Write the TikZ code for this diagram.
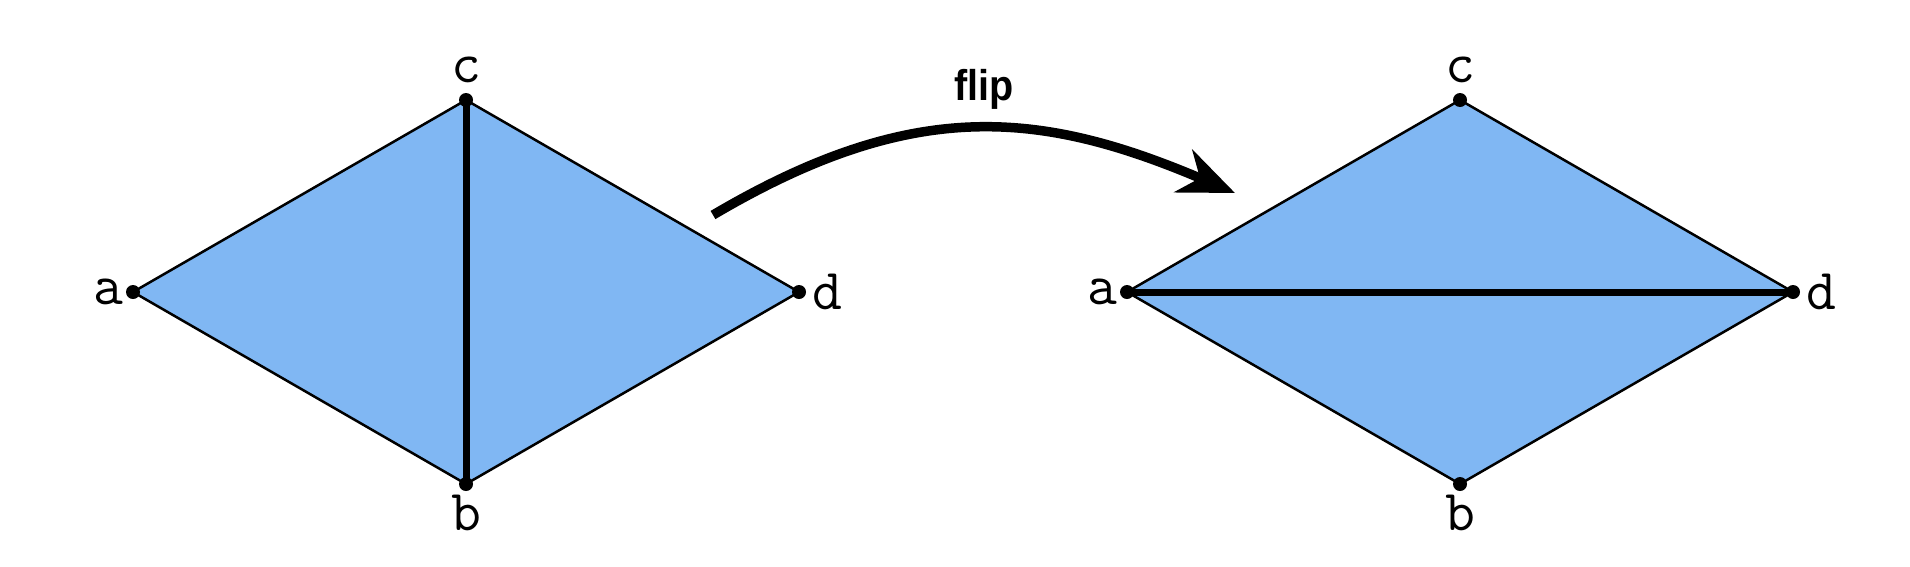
\documentclass[tikz,border=0pt]{standalone}
\usepackage{fontspec}
\newfontfamily\flipfont{Liberation Sans}
\usetikzlibrary{arrows.meta, positioning}
\definecolor{quadfill}{RGB}{128,183,243}

\begin{document}
\begin{tikzpicture}[x=1pt, y=-1pt,
		vertex/.style={circle, fill=black, inner sep=0pt, minimum size=14pt},
		vlabel/.style={inner sep=0pt, font=\fontsize{58}{58}\selectfont\ttfamily},
		edge/.style={line width=2.5pt, line join=round},
		diag/.style={line width=7pt},
		fliparrow/.style={line width=9.5pt, -{Stealth[length=56pt, width=46pt, inset=18pt]}}
	]
	\useasboundingbox (0,0) rectangle (1910,566);

	% Draw each quadrilateral with its four vertices
	\foreach \q/\dx in {L/0, R/994} {
			\coordinate (\q-a) at (133+\dx,292);
			\coordinate (\q-c) at (466+\dx,100);
			\coordinate (\q-b) at (466+\dx,484);
			\coordinate (\q-d) at (799+\dx,292);
			\draw[edge, fill=quadfill] (\q-a) -- (\q-c) -- (\q-d) -- (\q-b) -- cycle;
		}

	% Diagonals before and after the flip
	\draw[diag] (L-c) -- (L-b);
	\draw[diag] (R-a) -- (R-d);

	\foreach \q in {L, R} {
			\node[vertex] (\q-av) at (\q-a) {};
			\node[vertex] (\q-cv) at (\q-c) {};
			\node[vertex] (\q-bv) at (\q-b) {};
			\node[vertex] (\q-dv) at (\q-d) {};
			\node[vlabel, left=2pt of \q-av] (\q-al) {a};
			\node[vlabel, above=10pt of \q-cv] (\q-cl) {c};
			\node[vlabel, below=4pt of \q-bv] (\q-bl) {b};
			\node[vlabel, right=6pt of \q-dv] (\q-dl) {d};
		}

	% The flip arrow
	\coordinate (flipstart) at (713,215);
	\coordinate (flipend) at (1235,193);
	\draw[fliparrow] (flipstart) .. controls (913,97) and (1040,110) .. (flipend)
	node[pos=0.5, above=14pt, xshift=8pt, inner sep=0pt, font=\fontsize{43}{43}\flipfont\bfseries] (fliplabel) {\scalebox{0.92}[1]{flip}};

\end{tikzpicture}
\end{document}
